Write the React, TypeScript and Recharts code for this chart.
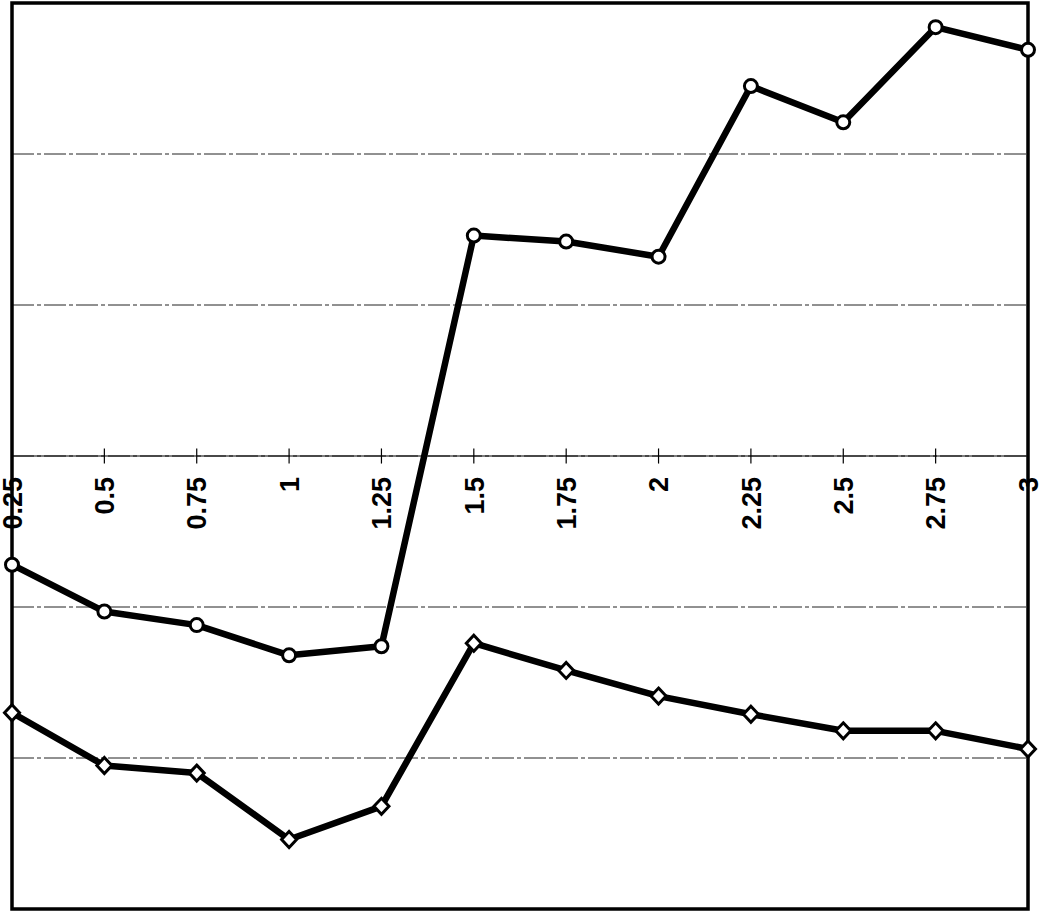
import React from 'react';
import {
    LineChart,
    Line,
    XAxis,
    YAxis,
    CartesianGrid,
    ReferenceLine,
    ReferenceArea,
} from 'recharts';

const categories = ['0.25', '0.5', '0.75', '1', '1.25', '1.5', '1.75', '2', '2.25', '2.5', '2.75', '3'];
const circleValues = [-0.72, -1.03, -1.12, -1.32, -1.26, 1.46, 1.42, 1.32, 2.45, 2.21, 2.84, 2.69];
const diamondValues = [-1.7, -2.05, -2.1, -2.54, -2.32, -1.24, -1.42, -1.59, -1.71, -1.82, -1.82, -1.94];
const yTicks = [-3, -2, -1, 0, 1, 2, 3];

const data = categories.map((c, i) => ({ x: c, circle: circleValues[i], diamond: diamondValues[i] }));

const FONT = '"Liberation Sans", Arial, sans-serif';

const CircleDot = (props: any) => {
    const { cx, cy, index } = props;
    return <circle key={`c-${index}`} cx={cx} cy={cy} r={6.5} fill="#fff" stroke="#000" strokeWidth={3} />;
};

const DiamondDot = (props: any) => {
    const { cx, cy, index } = props;
    const d = `M${cx},${cy - 8} L${cx + 7.5},${cy} L${cx},${cy + 8} L${cx - 7.5},${cy} Z`;
    return <path key={`d-${index}`} d={d} fill="#fff" stroke="#000" strokeWidth={3} />;
};

// rotated category label hanging under the zero axis
const tickLabel = (text: string) => (props: any) => {
    const vb = props.viewBox || {};
    const x = vb.x + (vb.width || 0) / 2;
    const axisY = vb.y + (vb.height || 0) / 2;
    return (
        <g transform={`translate(${x},${axisY + 21}) rotate(-90)`}>
            <text x={0} y={0} dy="0.36em" textAnchor="end" fontFamily={FONT} fontSize={27} fontWeight="bold" fill="#000">
                {text}
            </text>
        </g>
    );
};

export default function App() {
    return (
        <div style={{ position: 'absolute', left: 0, top: 0, width: 1040, height: 914, background: '#fff' }}>
            <LineChart width={1040} height={914} data={data} margin={{ top: 3, right: 12, bottom: 5, left: 12 }}>
                <CartesianGrid vertical={false} stroke="#222" strokeWidth={1} strokeDasharray="22 3 4 3" />
                <XAxis dataKey="x" hide />
                <YAxis hide domain={[-3, 3]} ticks={yTicks} allowDataOverflow />
                <ReferenceArea x1="0.25" x2="3" y1={-3} y2={3} fill="none" stroke="#000" strokeWidth={3.5} ifOverflow="visible" />
                <ReferenceLine y={0} stroke="#000" strokeWidth={1.2} />
                {categories.map((c) => (
                    <ReferenceLine
                        key={`t-${c}`}
                        segment={[{ x: c, y: -0.05 }, { x: c, y: 0.05 }]}
                        stroke="#000"
                        strokeWidth={1.2}
                        label={tickLabel(c)}
                    />
                ))}
                <Line
                    dataKey="diamond"
                    stroke="#000"
                    strokeWidth={6.5}
                    strokeLinejoin="round"
                    dot={DiamondDot}
                    isAnimationActive={false}
                />
                <Line
                    dataKey="circle"
                    stroke="#000"
                    strokeWidth={6.5}
                    strokeLinejoin="round"
                    dot={CircleDot}
                    isAnimationActive={false}
                />
            </LineChart>
        </div>
    );
}
